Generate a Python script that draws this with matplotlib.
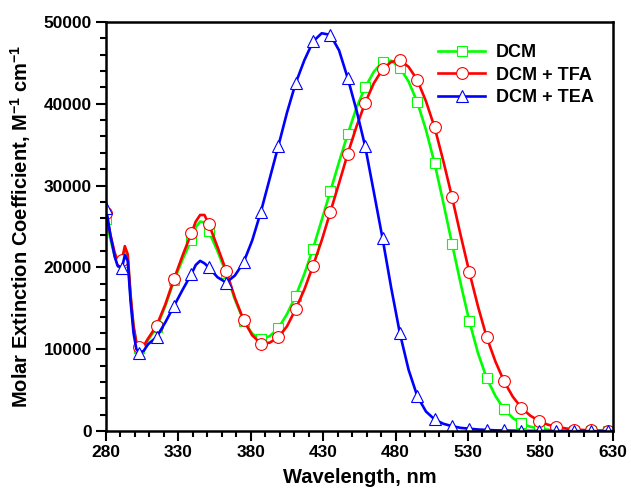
import numpy as np
import matplotlib
matplotlib.use('Agg')
import matplotlib.pyplot as plt
from matplotlib.ticker import FixedLocator

plt.rcParams['font.family'] = ['Liberation Sans', 'DejaVu Sans']
plt.rcParams['font.weight'] = 'bold'
plt.rcParams['mathtext.fontset'] = 'custom'
plt.rcParams['mathtext.rm'] = 'Liberation Sans:bold'
plt.rcParams['mathtext.bf'] = 'Liberation Sans:bold'
plt.rcParams['mathtext.default'] = 'bf'

wavelength = [280, 283, 286, 288, 291, 293, 295, 297, 299, 301, 303, 306, 309,
              315, 321, 327, 333, 339, 342, 345, 348, 351, 357, 363, 369, 375,
              381, 387, 393, 399, 405, 411, 417, 423, 429, 435, 441, 447, 453,
              459, 465, 471, 477, 483, 489, 495, 501, 507, 513, 519, 525, 531,
              537, 543, 549, 555, 561, 567, 573, 579, 585, 591, 597, 603, 609,
              615, 621, 627, 630]

dcm = [25900, 23500, 21400, 20500, 20700, 22200, 21200, 16300, 12700, 10700,
       10100, 10300, 11100, 12700, 15300, 18400, 21000, 23400, 24900, 25600,
       25500, 24400, 22000, 19300, 16100, 13500, 11900, 11200, 11600, 12550,
       14300, 16500, 19200, 22300, 25800, 29300, 32900, 36300, 39500, 42000,
       43900, 45100, 45250, 44400, 42700, 40200, 36800, 32700, 27900, 22900,
       18000, 13400, 9500, 6450, 4300, 2650, 1600, 940, 550, 300, 180, 100, 60,
       40, 30, 20, 10, 0, 0]

dcm_tfa = [26700, 24000, 21800, 20800, 20900, 22600, 21600, 16600, 12900,
           10800, 10300, 10400, 11300, 12900, 15500, 18600, 21500, 24200,
           25600, 26400, 26400, 25300, 22500, 19600, 16300, 13600, 11700,
           10700, 10800, 11450, 12800, 14900, 17300, 20200, 23300, 26800,
           30300, 33900, 37200, 40100, 42500, 44200, 45100, 45300, 44500,
           42900, 40300, 37100, 33000, 28600, 23900, 19400, 15200, 11450, 8500,
           6070, 4200, 2850, 1900, 1260, 800, 530, 350, 200, 150, 100, 70, 50, 40]

dcm_tea = [27300, 24000, 21300, 20200, 19900, 21500, 20800, 15800, 12000,
           10000, 9600, 9800, 10600, 11500, 13300, 15300, 17300, 19200, 20300,
           20800, 20500, 20000, 18800, 18150, 19000, 20600, 23300, 26800, 30800,
           34800, 38900, 42500, 45300, 47600, 48600, 48400, 46500, 43100, 39200,
           34800, 29200, 23560, 17500, 11940, 7500, 4280, 2400, 1430, 900, 610,
           400, 300, 200, 150, 100, 80, 60, 40, 30, 20, 10, 10, 0, 0, 0, 0, 0, 0, 0]

labels = ['DCM', 'DCM + TFA', 'DCM + TEA']
colors = ['#00ff00', '#ff0000', '#0000ff']
markers = ['s', 'o', '^']
msizes = [7, 8.5, 8.5]

# markers sit every 12 nm, starting at 280 then 291, 303, ...
marker_idx = [i for i, w in enumerate(wavelength) if w == 280 or (w - 291) % 12 == 0]

fig, ax = plt.subplots(figsize=(6.31, 4.95), dpi=100)
fig.subplots_adjust(left=0.168, right=0.971, top=0.956, bottom=0.129)

for y, lab, c, m, ms in zip([dcm, dcm_tfa, dcm_tea], labels, colors, markers, msizes):
    ax.plot(wavelength, y, color=c, lw=1.9, marker=m, ms=ms, mfc='white',
            mec=c, mew=0.8, markevery=marker_idx, label=lab)

ax.set_xlim(280, 630)
ax.set_ylim(0, 50000)
ax.xaxis.set_major_locator(FixedLocator(np.arange(280, 631, 50)))
ax.xaxis.set_minor_locator(FixedLocator(np.arange(280, 631, 10)))
ax.yaxis.set_major_locator(FixedLocator(np.arange(0, 50001, 10000)))
ax.yaxis.set_minor_locator(FixedLocator(np.arange(0, 50001, 2000)))
ax.tick_params(which='major', direction='out', length=7, width=1.5, labelsize=12.5, pad=3)
ax.tick_params(which='minor', direction='out', length=4, width=1.5)
for sp in ax.spines.values():
    sp.set_linewidth(1.8)

ax.set_xlabel('Wavelength, nm', fontsize=14.5, fontweight='bold', labelpad=6)
ax.set_ylabel(r'Molar Extinction Coefficient, M$^{-1}$ cm$^{-1}$', fontsize=14.5,
              fontweight='bold', labelpad=8)

leg = ax.legend(loc='upper right', bbox_to_anchor=(0.995, 0.985), frameon=False,
                fontsize=13, handlelength=2.6, handletextpad=0.6, labelspacing=0.3)
for t in leg.get_texts():
    t.set_fontweight('bold')

plt.savefig('out.png', dpi=100)
